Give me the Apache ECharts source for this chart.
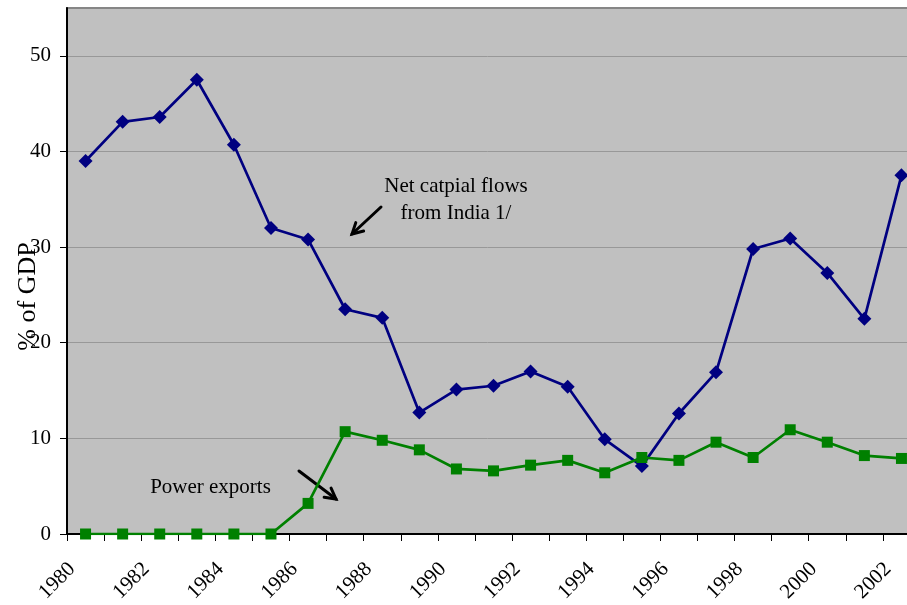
<!DOCTYPE html>
<html>
<head>
<meta charset="utf-8">
<script src="https://cdn.jsdelivr.net/npm/echarts@6/dist/echarts.min.js"></script>
<style>
  html, body { margin: 0; padding: 0; background: #ffffff; }
  #chart { width: 907px; height: 605px; }
</style>
</head>
<body>
<div id="chart"></div>
<script>
// Years on the category axis
const years = ['1980','1981','1982','1983','1984','1985','1986','1987','1988','1989','1990',
  '1991','1992','1993','1994','1995','1996','1997','1998','1999','2000','2001','2002'];

// Net capital flows from India, % of GDP
const netCapitalFlows = [39.0, 43.1, 43.6, 47.5, 40.7, 32.0, 30.8, 23.5, 22.6, 12.7, 15.1,
  15.5, 17.0, 15.4, 9.9, 7.1, 12.6, 16.9, 29.8, 30.9, 27.3, 22.5, 37.5];

// Power exports, % of GDP
const powerExports = [0, 0, 0, 0, 0, 0, 3.2, 10.7, 9.8, 8.8, 6.8,
  6.6, 7.2, 7.7, 6.4, 8.0, 7.7, 9.6, 8.0, 10.9, 9.6, 8.2, 7.9];

// Value-axis tick labels
const yTicks = [0, 10, 20, 30, 40, 50];

const SERIF = '"Liberation Serif", "Times New Roman", serif';

// Open arrow: shaft plus two head strokes at the tip
function arrow(x1, y1, x2, y2) {
  const ang = Math.atan2(y2 - y1, x2 - x1);
  const len = 12, spread = 0.5;
  const w1 = [x2 - len * Math.cos(ang - spread), y2 - len * Math.sin(ang - spread)];
  const w2 = [x2 - len * Math.cos(ang + spread), y2 - len * Math.sin(ang + spread)];
  const style = { stroke: '#000', lineWidth: 3, fill: null, lineCap: 'round', lineJoin: 'miter' };
  return {
    type: 'group',
    children: [
      { type: 'polyline', shape: { points: [[x1, y1], [x2, y2]] }, style },
      { type: 'polyline', shape: { points: [w1, [x2, y2], w2] }, style }
    ]
  };
}

const chart = echarts.init(document.getElementById('chart'), null, { renderer: 'canvas' });

chart.setOption({
  animation: false,
  backgroundColor: '#ffffff',
  grid: {
    left: 67, top: 8, right: -13, bottom: 71,
    show: true,
    backgroundColor: '#C0C0C0',
    borderColor: '#868686',
    borderWidth: 2,
    outerBoundsMode: 'none',
    containLabel: false
  },
  xAxis: {
    type: 'category',
    data: years,
    boundaryGap: true,
    axisLine: { lineStyle: { color: '#000', width: 2 } },
    axisTick: { show: true, interval: 0, length: 7, lineStyle: { color: '#000', width: 1 } },
    axisLabel: {
      interval: 1,
      rotate: 45,
      margin: 18.5,
      padding: [0, 19, 0, 0],
      color: '#000',
      fontFamily: SERIF,
      fontSize: 21
    },
    splitLine: { show: false }
  },
  yAxis: {
    type: 'value',
    min: 0,
    max: 55,
    interval: 10,
    axisLine: { show: true, lineStyle: { color: '#000', width: 2 } },
    axisTick: { show: true, length: 7, customValues: yTicks, lineStyle: { color: '#000', width: 1 } },
    axisLabel: {
      customValues: yTicks,
      margin: 16,
      color: '#000',
      fontFamily: SERIF,
      fontSize: 21
    },
    splitLine: { show: true, lineStyle: { color: '#989898', width: 1 } }
  },
  series: [
    {
      name: 'Net catpial flows from India 1/',
      type: 'line',
      data: netCapitalFlows,
      symbol: 'diamond',
      symbolSize: 14,
      lineStyle: { color: '#000080', width: 2.7 },
      itemStyle: { color: '#000080' },
      z: 2
    },
    {
      name: 'Power exports',
      type: 'line',
      data: powerExports,
      symbol: 'rect',
      symbolSize: 11,
      lineStyle: { color: '#008000', width: 2.7 },
      itemStyle: { color: '#008000' },
      z: 3
    }
  ],
  graphic: [
    {
      type: 'text',
      x: 28.5, y: 296.5,
      rotation: Math.PI / 2,
      style: {
        text: '% of GDP',
        font: '26px ' + SERIF,
        fill: '#000',
        align: 'center',
        verticalAlign: 'middle'
      }
    },
    {
      type: 'text',
      x: 456, y: 199.5,
      style: {
        text: 'Net catpial flows\nfrom India 1/',
        font: '21px ' + SERIF,
        lineHeight: 27,
        fill: '#000',
        align: 'center',
        verticalAlign: 'middle'
      }
    },
    {
      type: 'text',
      x: 210.5, y: 487,
      style: {
        text: 'Power exports',
        font: '21px ' + SERIF,
        fill: '#000',
        align: 'center',
        verticalAlign: 'middle'
      }
    },
    arrow(381, 207, 352, 234),
    arrow(299, 471, 336, 499)
  ]
});
</script>
</body>
</html>
